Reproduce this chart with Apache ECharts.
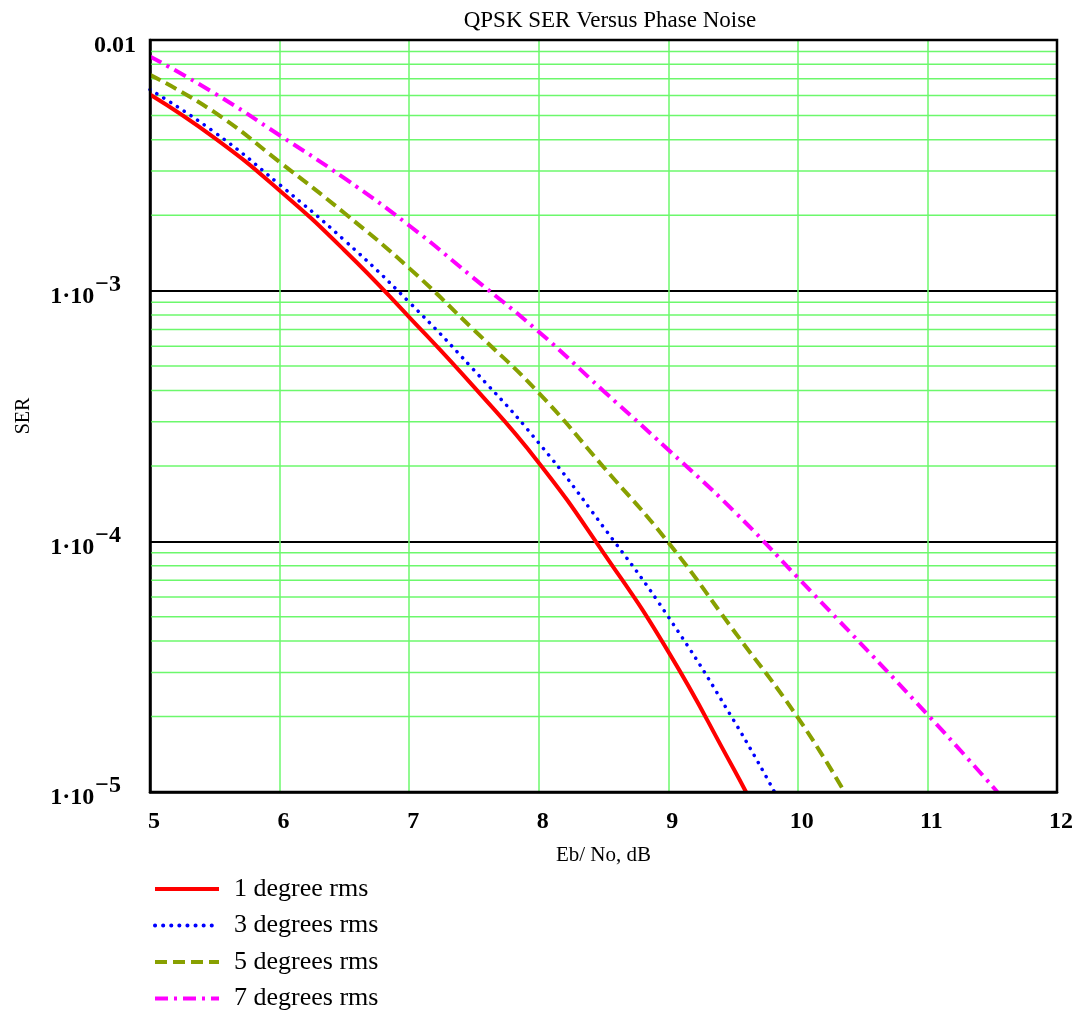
<!DOCTYPE html>
<html>
<head>
<meta charset="utf-8">
<script src="https://cdn.jsdelivr.net/npm/echarts@6/dist/echarts.min.js"></script>
<style>
html,body{margin:0;padding:0;background:#fff;}
#chart{width:1082px;height:1021px;}
</style>
</head>
<body>
<div id="chart"></div>
<script>
// ---- data (Eb/No in dB, SER) ----
const seriesNames = ['1 degree rms', '3 degrees rms', '5 degrees rms', '7 degrees rms'];
const x1 = [5, 5.5, 6, 6.5, 7, 7.5, 8, 8.5, 9, 9.5, 9.6];
const y1 = [6.06e-3, 4.06e-3, 2.51e-3, 1.45e-3, 7.85e-4, 4.13e-4, 2.06e-4, 9.0e-5, 3.63e-5, 1.25e-5, 1.0e-5];
const x3 = [5, 5.5, 6, 6.5, 7, 7.5, 8, 8.5, 9, 9.5, 9.82];
const y3 = [6.34e-3, 4.28e-3, 2.65e-3, 1.59e-3, 9.0e-4, 4.82e-4, 2.47e-4, 1.14e-4, 5.0e-5, 1.95e-5, 1.0e-5];
const x5 = [5, 5.5, 6, 6.5, 7, 7.5, 8, 8.5, 9, 9.5, 10, 10.36];
const y5 = [7.26e-3, 5.14e-3, 3.26e-3, 2.04e-3, 1.23e-3, 6.97e-4, 3.91e-4, 1.98e-4, 9.9e-5, 4.44e-5, 1.98e-5, 1.0e-5];
const x7 = [5, 5.5, 6, 6.5, 7, 7.5, 8, 8.5, 9, 9.5, 10, 11, 11.54];
const y7 = [8.6e-3, 6.12e-3, 4.17e-3, 2.81e-3, 1.82e-3, 1.12e-3, 6.86e-4, 3.98e-4, 2.32e-4, 1.33e-4, 7.16e-5, 2.04e-5, 1.0e-5];

// axis ticks
const xMin = 5, xMax = 12, xInterval = 1;
const yMin = 1e-5, yMax = 1e-2;
const yDecades = [-5, -4, -3];
const minorMultipliers = [2, 3, 4, 5, 6, 7, 8, 9];

const zip = (xs, ys) => xs.map((x, i) => [x, ys[i]]);
const minorValues = [];
yDecades.forEach(d => minorMultipliers.forEach(m => minorValues.push(m * Math.pow(10, d))));

const serif = '"Liberation Serif", "Times New Roman", serif';
const gridGreen = '#6cf86c';

const minorSeries = minorValues.map((v, i) => ({
  name: '_minor' + i, type: 'line', data: [[xMin, v], [xMax, v]],
  symbol: 'none', silent: true, z: 1, animation: false,
  lineStyle: { color: gridGreen, width: 1.5, type: 'solid' },
  emphasis: { disabled: true }, tooltip: { show: false }
}));

const chart = echarts.init(document.getElementById('chart'), null, { renderer: 'canvas' });
chart.setOption({
  animation: false,
  backgroundColor: '#fff',
  title: {
    text: 'QPSK SER Versus Phase Noise',
    left: 605, top: 4, textAlign: 'center',
    textStyle: { fontFamily: serif, fontWeight: 'normal', fontSize: 23, color: '#000' }
  },
  grid: { left: 150, right: 25, top: 40, bottom: 229, show: false },
  legend: {
    orient: 'vertical', left: 148, top: 871, height: 150,
    itemWidth: 64, itemHeight: 14, itemGap: 10.5,
    itemStyle: { color: 'rgba(0,0,0,0)', borderWidth: 0, opacity: 0 },
    lineStyle: { width: 4 },
    textStyle: { fontFamily: serif, fontSize: 26, color: '#000', padding: [0, 0, 0, 10] },
    data: seriesNames
  },
  xAxis: {
    type: 'value', min: xMin, max: xMax, interval: xInterval,
    name: 'Eb/ No, dB', nameLocation: 'middle', nameGap: 53,
    nameTextStyle: { fontFamily: serif, fontSize: 21, color: '#000' },
    axisLine: { show: true, lineStyle: { color: '#000', width: 2.5 } },
    axisTick: { show: false },
    axisLabel: { fontFamily: serif, fontWeight: 'bold', fontSize: 24, color: '#000', margin: 18, padding: [0, 0, 0, 8] },
    splitLine: { show: true, lineStyle: { color: gridGreen, width: 1.5 } }
  },
  yAxis: {
    type: 'log', logBase: 10, min: yMin, max: yMax, interval: 1,
    name: 'SER', nameLocation: 'middle', nameGap: 116, nameRotate: 90,
    nameTextStyle: { fontFamily: serif, fontSize: 20, color: '#000' },
    axisLine: { show: true, onZero: false, lineStyle: { color: '#000', width: 2.5 } },
    axisTick: { show: false },
    axisLabel: {
      margin: 14,
      formatter: function (v) {
        const e = Math.round(Math.log10(v));
        if (e === -2) return '{b|0.01}';
        return '{b|1\u00B710}{s|\u2212' + (-e) + '}';
      },
      rich: {
        b: { fontFamily: serif, fontWeight: 'bold', fontSize: 24, color: '#000', lineHeight: 36, verticalAlign: 'bottom' },
        s: { fontFamily: serif, fontWeight: 'bold', fontSize: 24, color: '#000', lineHeight: 36, verticalAlign: 'top', padding: [0, 15, 14, 1] }
      }
    },
    splitLine: { show: true, lineStyle: { color: '#000', width: 2 } }
  },
  series: minorSeries.concat([
    {
      name: seriesNames[0], type: 'line', data: zip(x1, y1), smooth: true, symbol: 'none', z: 5,
      color: '#ff0000', lineStyle: { color: '#ff0000', width: 4, type: 'solid' }
    },
    {
      name: seriesNames[1], type: 'line', data: zip(x3, y3), smooth: true, symbol: 'none', z: 5,
      color: '#0000ff', lineStyle: { color: '#0000ff', width: 3.5, type: [0.1, 8], cap: 'round' }
    },
    {
      name: seriesNames[2], type: 'line', data: zip(x5, y5), smooth: true, symbol: 'none', z: 5,
      color: '#88a000', lineStyle: { color: '#88a000', width: 4, type: [12, 6], cap: 'butt' }
    },
    {
      name: seriesNames[3], type: 'line', data: zip(x7, y7), smooth: true, symbol: 'none', z: 5,
      color: '#ff00ff', lineStyle: { color: '#ff00ff', width: 4, type: [13, 6, 3, 6], cap: 'butt' }
    }
  ]),
  graphic: [
    { type: 'rect', z: 10, silent: true,
      shape: { x: 150, y: 40, width: 907, height: 752 },
      style: { fill: 'none', stroke: '#000', lineWidth: 2.5 } }
  ]
});
</script>
</body>
</html>
